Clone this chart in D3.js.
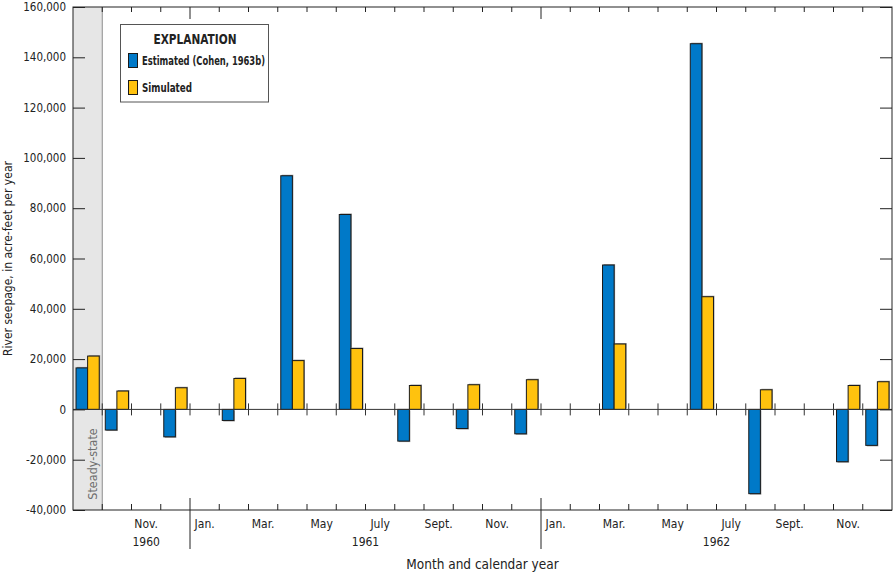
<!DOCTYPE html>
<html>
<head>
<meta charset="utf-8">
<script src="https://cdn.jsdelivr.net/npm/d3@7"></script>
<style>
  body { margin: 0; background: #fff; }
  svg text { font-family: "Liberation Sans Narrow", "DejaVu Sans Condensed", sans-serif; fill: #222; }
</style>
</head>
<body>
<div id="chart"></div>
<script>
// Month slots (first slot is the steady-state period)
const slots = [
  "Steady-state",
  "Oct 1960", "Nov 1960", "Dec 1960",
  "Jan 1961", "Feb 1961", "Mar 1961", "Apr 1961", "May 1961", "Jun 1961",
  "Jul 1961", "Aug 1961", "Sep 1961", "Oct 1961", "Nov 1961", "Dec 1961",
  "Jan 1962", "Feb 1962", "Mar 1962", "Apr 1962", "May 1962", "Jun 1962",
  "Jul 1962", "Aug 1962", "Sep 1962", "Oct 1962", "Nov 1962", "Dec 1962"
];

// River seepage, acre-feet per year (null = no bar)
const estimated = [
  16500,
  -8200, null, -10900,
  null, -4400, null, 92900, null, 77500,
  null, -12600, null, -7600, null, -9700,
  null, null, 57400, null, null, 145400,
  null, -33500, null, null, -20800, -14300
];
const simulated = [
  21200,
  7300, null, 8600,
  null, 12300, null, 19400, null, 24200,
  null, 9500, null, 9800, null, 11800,
  null, null, 26000, null, null, 44800,
  null, 7800, null, null, 9500, 11000
];

const monthLabels = [
  "",
  "", "Nov.", "",
  "Jan.", "", "Mar.", "", "May", "",
  "July", "", "Sept.", "", "Nov.", "",
  "Jan.", "", "Mar.", "", "May", "",
  "July", "", "Sept.", "", "Nov.", ""
];

const years = [
  { label: "1960", first: "Oct 1960", last: "Dec 1960" },
  { label: "1961", first: "Jan 1961", last: "Dec 1961" },
  { label: "1962", first: "Jan 1962", last: "Dec 1962" }
];

const yTicks = [-40000, -20000, 0, 20000, 40000, 60000, 80000, 100000, 120000, 140000, 160000];

const SERIES = [
  { key: "est", name: "Estimated (Cohen, 1963b)", color: "#0079c8", values: estimated, legendWidth: 123 },
  { key: "sim", name: "Simulated", color: "#ffc20e", values: simulated, legendWidth: 50 }
];

const W = 894, H = 574;
const L = 73, R = 892, T = 7, B = 510;

const svg = d3.select("#chart").append("svg")
  .attr("width", W).attr("height", H);

const x = d3.scaleBand().domain(slots).range([L, R]).padding(0);
const xs = d3.scaleBand().domain(SERIES.map(s => s.key))
  .range([0, x.bandwidth()]).paddingInner(0).paddingOuter(0.26);
const y = d3.scaleLinear().domain([-40000, 160000]).range([B, T]);

// ---- steady-state band ----
svg.append("rect")
  .attr("x", L).attr("y", T)
  .attr("width", x.bandwidth()).attr("height", B - T)
  .attr("fill", "#e6e6e6");
svg.append("line")
  .attr("x1", x(slots[1])).attr("x2", x(slots[1]))
  .attr("y1", T).attr("y2", B)
  .attr("stroke", "#8c8c8c").attr("stroke-width", 1);
svg.append("text")
  .attr("transform", `translate(${x(slots[0]) + x.bandwidth() / 2 + 9},464) rotate(-90)`)
  .attr("text-anchor", "middle")
  .style("font-size", "12.5px")
  .style("fill", "#6e6e6e")
  .text("Steady-state");

// ---- bars ----
const barData = [];
SERIES.forEach(s => {
  s.values.forEach((v, i) => {
    if (v == null) return;
    barData.push({ slot: slots[i], key: s.key, value: v, color: s.color });
  });
});

const bars = svg.append("g");
bars.selectAll("rect.shadow")
  .data(barData).enter().append("rect")
  .attr("class", "shadow")
  .attr("x", d => x(d.slot) + xs(d.key) + 1)
  .attr("y", d => Math.min(y(d.value), y(0)) + (d.value > 0 ? -1 : 1))
  .attr("width", xs.bandwidth())
  .attr("height", d => Math.abs(y(d.value) - y(0)))
  .attr("fill", "#9a9a9a");
bars.selectAll("rect.bar")
  .data(barData).enter().append("rect")
  .attr("class", "bar")
  .attr("x", d => x(d.slot) + xs(d.key))
  .attr("y", d => Math.min(y(d.value), y(0)))
  .attr("width", xs.bandwidth())
  .attr("height", d => Math.abs(y(d.value) - y(0)))
  .attr("fill", d => d.color)
  .attr("stroke", "#1a1a1a")
  .attr("stroke-width", 1);

// ---- zero line with month ticks ----
const boundaries = slots.slice(1).map(s => x(s));
svg.append("line")
  .attr("x1", L).attr("x2", R)
  .attr("y1", y(0)).attr("y2", y(0))
  .attr("stroke", "#333").attr("stroke-width", 1);
svg.append("g").selectAll("line")
  .data(boundaries).enter().append("line")
  .attr("x1", d => d).attr("x2", d => d)
  .attr("y1", y(0) - 6).attr("y2", y(0) + 6)
  .attr("stroke", "#333").attr("stroke-width", 1);

// ---- y axes ----
const fmt = d => d3.format(",")(d).replace("\u2212", "-");
const yAxisL = svg.append("g")
  .attr("transform", `translate(${L},0)`)
  .call(d3.axisLeft(y).tickValues(yTicks).tickSize(-12).tickPadding(7).tickFormat(fmt));
yAxisL.select(".domain").remove();
yAxisL.selectAll("text")
  .style("font-size", "11.5px")
  .style("font-family", "'Liberation Sans Narrow','DejaVu Sans Condensed',sans-serif")
  .attr("fill", "#222");
yAxisL.selectAll("line").attr("stroke", "#222");

const yAxisR = svg.append("g")
  .attr("transform", `translate(${R},0)`)
  .call(d3.axisRight(y).tickValues(yTicks).tickSize(-12).tickFormat(""));
yAxisR.select(".domain").remove();
yAxisR.selectAll("line").attr("stroke", "#222");

// ---- top / bottom month ticks ----
const yearStarts = years.slice(1).map(yr => x(yr.first));
const tickG = svg.append("g").attr("stroke", "#222").attr("stroke-width", 1);
boundaries.forEach(bx => {
  const isYear = yearStarts.includes(bx);
  tickG.append("line")
    .attr("x1", bx).attr("x2", bx)
    .attr("y1", T).attr("y2", T + (isYear ? 12 : 5));
  tickG.append("line")
    .attr("x1", bx).attr("x2", bx)
    .attr("y1", isYear ? B - 12 : B - 6).attr("y2", isYear ? 549 : B);
});

// ---- frame ----
svg.append("rect")
  .attr("x", L).attr("y", T)
  .attr("width", R - L).attr("height", B - T)
  .attr("fill", "none").attr("stroke", "#222").attr("stroke-width", 1);

// ---- x labels ----
svg.append("g").selectAll("text")
  .data(slots.map((s, i) => ({ s, label: monthLabels[i] })).filter(d => d.label))
  .enter().append("text")
  .attr("x", d => x(d.s) + x.bandwidth() / 2)
  .attr("y", 528)
  .attr("text-anchor", "middle")
  .style("font-size", "12px")
  .text(d => d.label);

svg.append("g").selectAll("text")
  .data(years).enter().append("text")
  .attr("x", d => (x(d.first) + x(d.last) + x.bandwidth()) / 2)
  .attr("y", 546)
  .attr("text-anchor", "middle")
  .style("font-size", "12px")
  .text(d => d.label);

// ---- axis titles ----
svg.append("text")
  .attr("x", (L + R) / 2).attr("y", 569)
  .attr("text-anchor", "middle")
  .style("font-size", "13.5px")
  .text("Month and calendar year");

svg.append("text")
  .attr("transform", `translate(12,${(T + B) / 2}) rotate(-90)`)
  .attr("text-anchor", "middle")
  .style("font-size", "12px")
  .text("River seepage, in acre-feet per year");

// ---- legend ----
const lg = svg.append("g");
lg.append("rect")
  .attr("x", 120.5).attr("y", 24.5)
  .attr("width", 148).attr("height", 77.5)
  .attr("fill", "#fff").attr("stroke", "#555").attr("stroke-width", 1);
lg.append("text")
  .attr("x", 195).attr("y", 44)
  .attr("text-anchor", "middle")
  .attr("textLength", 83).attr("lengthAdjust", "spacingAndGlyphs")
  .style("font-size", "13.5px").style("font-weight", "bold")
  .text("EXPLANATION");
SERIES.forEach((s, i) => {
  const ly = 53 + i * 27;
  lg.append("rect")
    .attr("x", 128.5).attr("y", ly + 0.5)
    .attr("width", 9).attr("height", 14)
    .attr("fill", s.color).attr("stroke", "#1a1a1a").attr("stroke-width", 1);
  lg.append("text")
    .attr("x", 142).attr("y", ly + 12)
    .attr("textLength", s.legendWidth).attr("lengthAdjust", "spacingAndGlyphs")
    .style("font-size", "12.5px").style("font-weight", "bold")
    .text(s.name);
});
</script>
</body>
</html>
